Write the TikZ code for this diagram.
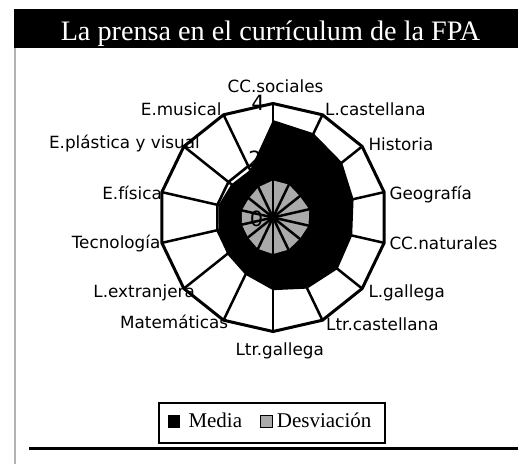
\documentclass[tikz,border=0pt]{standalone}
\usepackage{fontspec}
\setmainfont{Liberation Serif}
\newfontfamily\labfont{DejaVu Sans}
\definecolor{devgray}{RGB}{170,170,170}
\definecolor{edgegray}{RGB}{178,178,178}
\tikzset{
  catlab/.style={font=\labfont\fontsize{16.8bp}{18bp}\selectfont, inner sep=0pt},
  ticklab/.style={font=\labfont\fontsize{21bp}{22bp}\selectfont, inner sep=0pt},
  gridline/.style={line width=2.6bp, line join=miter},
  outerline/.style={line width=3bp, line join=miter},
  spokeline/.style={line width=2.5bp},
  legtext/.style={font=\fontsize{21bp}{22bp}\selectfont, inner sep=0pt}
}
\begin{document}
\begin{tikzpicture}[x=1bp,y=-1bp]
\useasboundingbox (0,0) rectangle (518,464);
% frame
\node[fill=black, anchor=north west, minimum width=504bp, minimum height=39bp, inner sep=0pt] (bar) at (14,9) {};
\node[text=white, anchor=base, inner sep=0pt, font=\fontsize{28.2bp}{29bp}\selectfont] (title) at (270.5,40.9) {La prensa en el currículum de la FPA};
\coordinate (lt) at (15,48);
\coordinate (lb) at (15,464);
\draw[edgegray, line width=2bp] (lt) -- (lb);
\coordinate (bl) at (29,448.3);
\coordinate (br) at (518,448.3);
\draw[line width=3.3bp] (bl) -- (br);
% chart
\coordinate (c) at (273,217.5);
\foreach \k in {0,...,13}{
  \path (c) ++({-90+\k*360/14}:114) coordinate (v\k);
  \path (c) ++({-90+\k*360/14}:57) coordinate (g\k);
}
\foreach \k/\v in {0/3.42,1/3.28,2/3.1,3/2.9,4/2.85,5/2.9,6/2.77,7/2.55,8/2.23,9/2.06,10/1.95,11/1.96,12/1.87,13/1.85}{
  \path (c) ++({-90+\k*360/14}:{\v*28.5}) coordinate (m\k);
}
\foreach \k/\v in {0/1.3,1/1.28,2/1.2,3/1.3,4/1.28,5/1.2,6/1.25,7/1.28,8/1.22,9/1.12,10/1.12,11/1.12,12/1.08,13/1.18}{
  \path (c) ++({-90+\k*360/14}:{\v*28.5}) coordinate (d\k);
}
\draw[gridline] (g0)--(g1)--(g2)--(g3)--(g4)--(g5)--(g6)--(g7)--(g8)--(g9)--(g10)--(g11)--(g12)--(g13)--cycle;
\fill[black] (m0)--(m1)--(m2)--(m3)--(m4)--(m5)--(m6)--(m7)--(m8)--(m9)--(m10)--(m11)--(m12)--(m13)--cycle;
\fill[devgray] (d0)--(d1)--(d2)--(d3)--(d4)--(d5)--(d6)--(d7)--(d8)--(d9)--(d10)--(d11)--(d12)--(d13)--cycle;
\foreach \k in {0,...,13}{ \draw[spokeline] (c) -- (v\k); }
\draw[outerline] (v0)--(v1)--(v2)--(v3)--(v4)--(v5)--(v6)--(v7)--(v8)--(v9)--(v10)--(v11)--(v12)--(v13)--cycle;
% tick labels
\node[ticklab, anchor=base east] (t4) at (265,111) {4};
\node[ticklab, anchor=base east] (t2) at (262,166.5) {2};
\node[ticklab, anchor=base east] (t0) at (263.5,226.5) {0};
% category labels
\node[catlab, anchor=base] (l0) at (275.5,92.2) {CC.sociales};
\node[catlab, anchor=base west] (l1) at (325,115.5) {L.castellana};
\node[catlab, anchor=base west] (l2) at (368.3,150.7) {Historia};
\node[catlab, anchor=base west] (l3) at (389.3,199.3) {Geografía};
\node[catlab, anchor=base west] (l4) at (389.3,249.3) {CC.naturales};
\node[catlab, anchor=base west] (l5) at (368.3,297.3) {L.gallega};
\node[catlab, anchor=base west] (l6) at (326,330) {Ltr.castellana};
\node[catlab, anchor=base] (l7) at (279.7,355) {Ltr.gallega};
\node[catlab, anchor=base east] (l8) at (228.3,328.8) {Matemáticas};
\node[catlab, anchor=base east] (l9) at (195,297) {L.extranjera};
\node[catlab, anchor=base east] (l10) at (160.5,249) {Tecnología};
\node[catlab, anchor=base east] (l11) at (162,199.3) {E.física};
\node[catlab, anchor=base east] (l12) at (200,149) {E.plástica y visual};
\node[catlab, anchor=base east] (l13) at (221.7,115.3) {E.musical};
% legend
\node[draw=black, line width=2bp, anchor=north west, minimum width=225.7bp, minimum height=40bp, inner sep=0pt] (legend) at (158.3,401.7) {};
\node[fill=black, anchor=north west, minimum size=12.3bp, inner sep=0pt] (sqm) at (167.7,415) {};
\node[legtext, anchor=base west] (tm) at (188.3,427.3) {Media};
\node[fill=devgray, draw=black, line width=1bp, anchor=north west, minimum size=12bp, inner sep=0pt] (sqd) at (259.8,415.3) {};
\node[legtext, anchor=base west] (td) at (276.7,427.3) {Desviación};
\end{tikzpicture}
\end{document}
